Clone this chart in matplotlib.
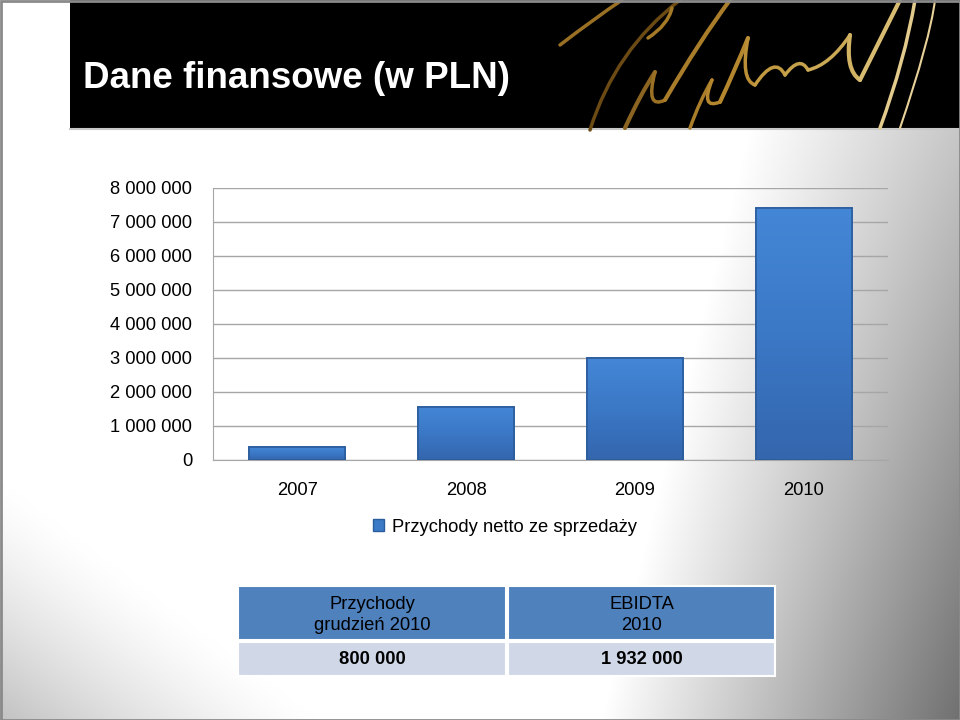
import numpy as np
import matplotlib
matplotlib.use("Agg")
import matplotlib.pyplot as plt
from matplotlib.patches import Rectangle, Patch
from matplotlib.path import Path
from matplotlib.patches import PathPatch
from matplotlib.colors import LinearSegmentedColormap

plt.rcParams['font.family'] = ['Liberation Sans', 'DejaVu Sans']

# ---------------- data ----------------
title = "Dane finansowe (w PLN)"
years = ["2007", "2008", "2009", "2010"]
revenue = [370000, 1560000, 3000000, 7400000]
series_name = "Przychody netto ze sprzedaży"
y_ticks = [0, 1000000, 2000000, 3000000, 4000000, 5000000, 6000000, 7000000, 8000000]
y_tick_labels = ["0", "1 000 000", "2 000 000", "3 000 000", "4 000 000",
                 "5 000 000", "6 000 000", "7 000 000", "8 000 000"]
table_headers = ["Przychody\ngrudzień 2010", "EBIDTA\n2010"]
table_values = ["800 000", "1 932 000"]

W, H = 960, 720
fig = plt.figure(figsize=(9.6, 7.2), dpi=100)

# ---------------- background (pixel coordinates) ----------------
bg = fig.add_axes([0, 0, 1, 1])
bg.set_xlim(0, W)
bg.set_ylim(H, 0)
bg.axis('off')
xx, yy = np.meshgrid(np.arange(W) + 0.5, np.arange(H) + 0.5)
x0 = 750 - 0.25 * np.clip(yy - 130, 0, None)
g_right = np.clip((xx - x0) / (W - x0), 0, 1)
maxdark = 0.22 + 0.34 * np.clip((yy - 130) / 590.0, 0, 1)
dark = maxdark * g_right
s = -(240 * xx - 320 * yy + 153600) / 400.0 / 192.0
dark = 1 - (1 - dark) * (1 - 0.24 * np.clip(s, 0, 1) ** 1.3)
img = 1 - dark
bg.imshow(np.dstack([img, img, img]), extent=[0, W, H, 0], aspect='auto',
          zorder=0, interpolation='bilinear')

# header band
bg.add_patch(Rectangle((70, 0), W - 70, 128, facecolor='black', edgecolor='none', zorder=1))
bg.plot([70, W], [129, 129], color='#c8c8c8', lw=1.5, zorder=1)
bg.text(83, 79, title, color='white', fontsize=26.5, fontweight='bold',
        va='center', ha='left', zorder=3)

# decorative signature strokes
def stroke(pts, color, lw):
    codes = [Path.MOVETO] + [Path.CURVE3] * (len(pts) - 1)
    bg.add_patch(PathPatch(Path(pts, codes), facecolor='none', edgecolor=color,
                           lw=lw, capstyle='round', zorder=2))

stroke([(590, 130), (615, 50), (680, 0)], '#6b4a14', 2.5)
stroke([(560, 45), (595, 18), (622, 0)], '#9a7124', 2.5)
stroke([(648, 38), (668, 25), (672, 8)], '#a57a27', 2.5)
stroke([(625, 128), (640, 95), (655, 72)], '#8a6420', 3)
stroke([(655, 72), (645, 110), (665, 100)], '#9a7124', 2.5)
stroke([(665, 100), (700, 40), (730, 0)], '#a97d2a', 3)
stroke([(690, 128), (700, 100), (712, 80)], '#a97d2a', 2.5)
stroke([(712, 80), (700, 110), (720, 102)], '#b4872f', 2.5)
stroke([(720, 102), (735, 70), (748, 38)], '#b4872f', 3)
stroke([(748, 38), (740, 80), (755, 85)], '#bb8f37', 2.5)
stroke([(755, 85), (775, 55), (785, 75)], '#c19a42', 2.5)
stroke([(785, 75), (800, 55), (808, 70)], '#c6a14b', 2.5)
stroke([(808, 70), (830, 65), (850, 35)], '#cca955', 2.5)
stroke([(850, 35), (845, 70), (860, 80)], '#d2b263', 3)
stroke([(860, 80), (880, 40), (900, 0)], '#d8bc72', 3)
stroke([(880, 128), (905, 60), (915, 0)], '#e2cb8c', 2.5)
stroke([(900, 128), (930, 40), (935, 0)], '#e8d29a', 1.5)

# frame border
bg.add_patch(Rectangle((0.5, 0.5), W - 1, H - 1, facecolor='none', edgecolor='#8a8a8a', lw=2, zorder=5))

# ---------------- chart ----------------
ax = fig.add_axes([213 / W, 1 - 460 / H, (888 - 213) / W, (460 - 188) / H])
ax.patch.set_alpha(0)
xpos = np.arange(len(years))
bars = ax.bar(xpos, revenue, width=0.57, color='#3b7ac7', edgecolor='#2b5c9c', lw=1.2, zorder=3)
cmap = LinearSegmentedColormap.from_list('bar', ['#3466ad', '#3b78c6', '#4487d6'])
grad = np.linspace(0, 1, 256).reshape(-1, 1)
for b in bars:
    x, w, h = b.get_x(), b.get_width(), b.get_height()
    im = ax.imshow(grad, cmap=cmap, extent=[x, x + w, 0, h], origin='lower',
                   aspect='auto', zorder=3.5)
    im.set_clip_path(b)
    ax.add_patch(Rectangle((x, 0), w, h, facecolor='none', edgecolor='#2b5c9c', lw=1.2, zorder=4))
ax.set_xlim(-0.5, len(years) - 0.5)
ax.set_ylim(0, 8000000)
ax.set_yticks(y_ticks)
ax.set_yticklabels(y_tick_labels)
ax.set_xticks(xpos)
ax.set_xticklabels(years)
ax.yaxis.grid(True, color='#a6a6a6', lw=1)
ax.set_axisbelow(True)
for sp in ['top', 'right']:
    ax.spines[sp].set_visible(False)
ax.spines['left'].set_color('#a6a6a6')
ax.spines['bottom'].set_color('#a6a6a6')
ax.tick_params(axis='y', length=0, pad=15, labelsize=13.2, labelcolor='black')
ax.tick_params(axis='x', length=0, pad=16, labelsize=13.2, labelcolor='black')

fig.legend(handles=[Patch(facecolor='#3b7ac7', edgecolor='#2b5c9c')], labels=[series_name],
           loc='center', bbox_to_anchor=(505 / W, 1 - 527 / H), frameon=False,
           fontsize=13.2, handlelength=0.6, handleheight=0.6, handletextpad=0.4)

# ---------------- table ----------------
cols = [(238, 506), (508, 775)]
for (xa, xb), hdr, val in zip(cols, table_headers, table_values):
    bg.add_patch(Rectangle((xa, 586), xb - xa, 54, facecolor='#4f81bd', edgecolor='white', lw=1.5, zorder=3))
    bg.add_patch(Rectangle((xa, 642), xb - xa, 34, facecolor='#d0d8e8', edgecolor='white', lw=1.5, zorder=3))
    bg.text((xa + xb) / 2, 615, hdr, ha='center', va='center', fontsize=13.2,
            color='black', linespacing=1.35, zorder=4)
    bg.text((xa + xb) / 2, 660, val, ha='center', va='center', fontsize=13.2,
            fontweight='bold', color='black', zorder=4)

fig.savefig("out.png", dpi=100)
